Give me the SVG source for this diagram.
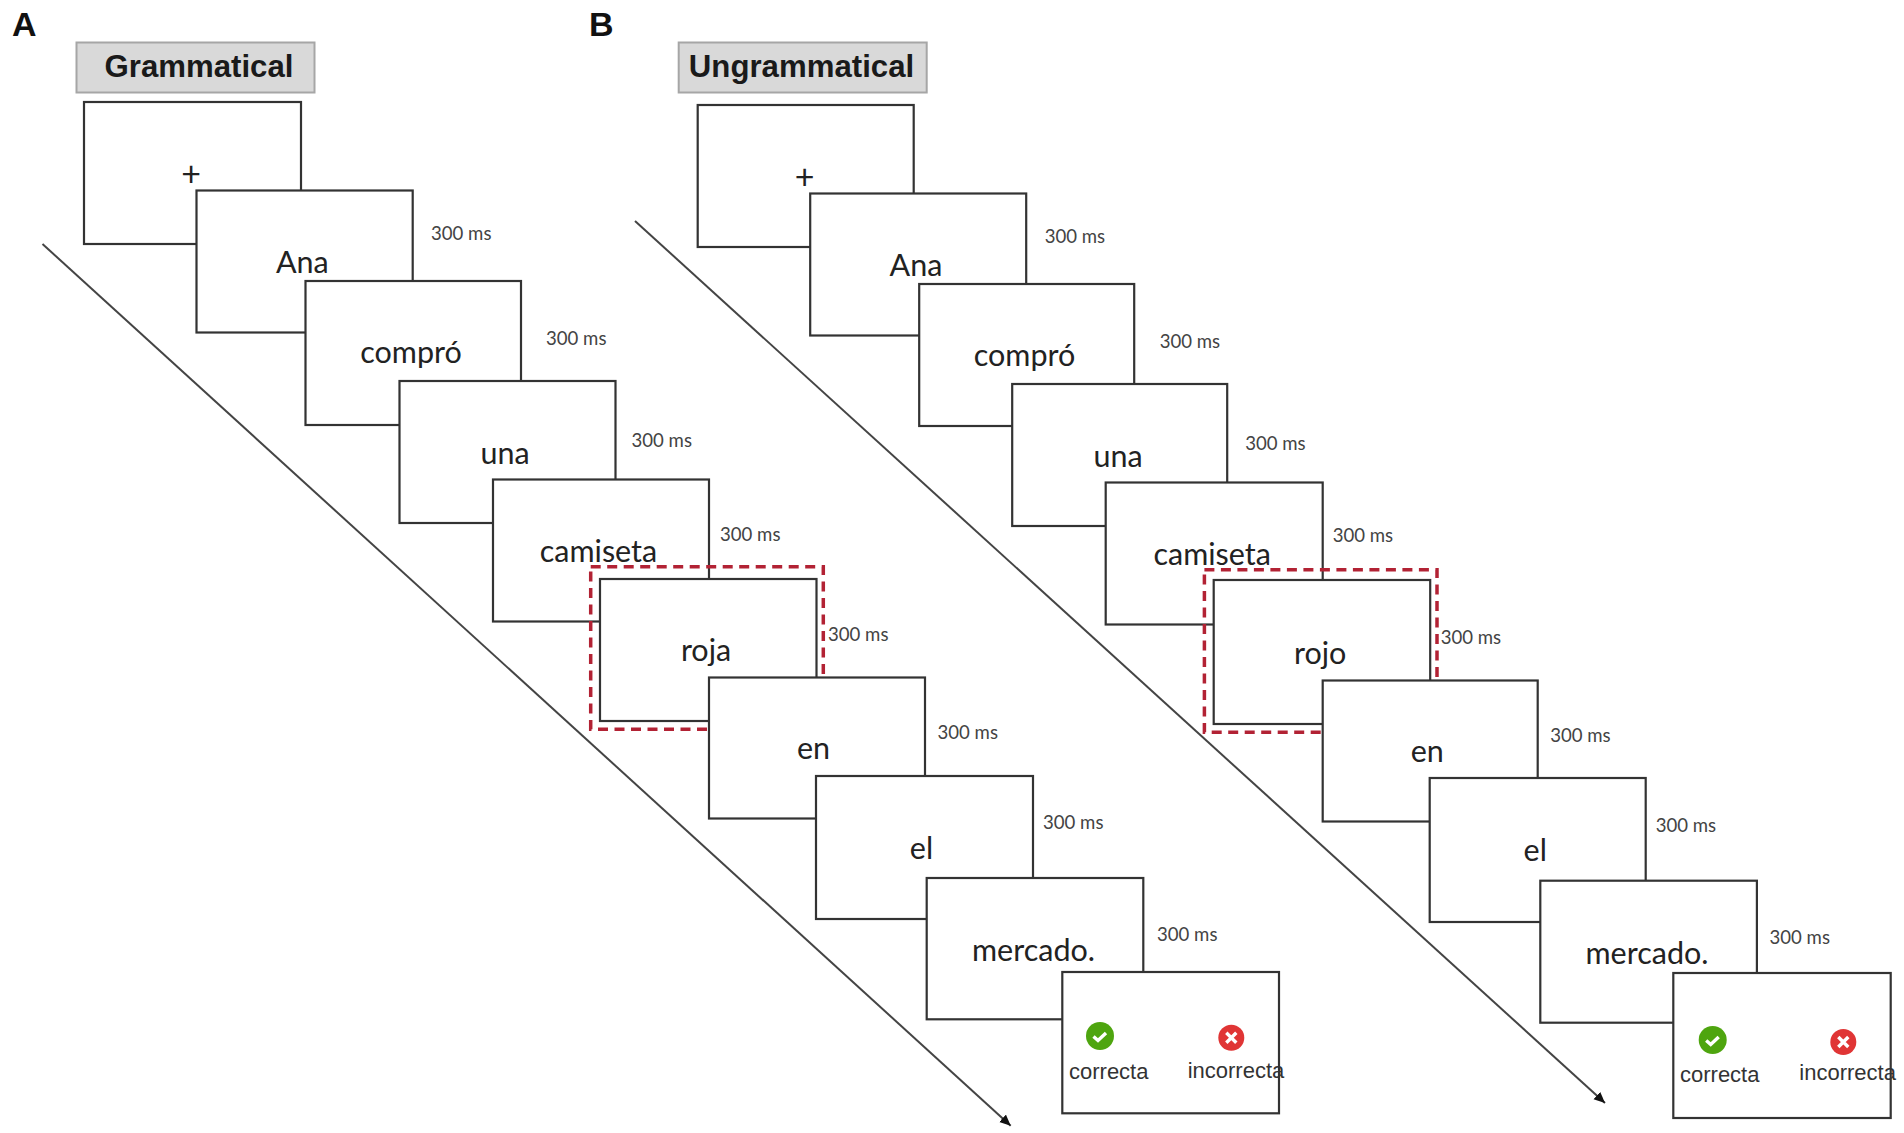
<svg xmlns="http://www.w3.org/2000/svg" width="1904" height="1133" viewBox="0 0 1904 1133">
<style>
.bg{fill:#fff}
.box{fill:#fff;stroke:#333;stroke-width:2.2}
.hdr{fill:#d9d9d9;stroke:#a6a6a6;stroke-width:2}
.ht{font:bold 31.200px "Liberation Sans",Arial,sans-serif;fill:#1a1a1a;text-anchor:middle}
.pl{font:bold 34px "Liberation Sans",Arial,sans-serif;fill:#111}
.w{font:30.500px Lato,"Open Sans",sans-serif;fill:#222;text-anchor:middle}
.fx{font:34px Lato,"Open Sans",sans-serif;fill:#222;text-anchor:middle}
.ms{font:18.600px Lato,"Open Sans",sans-serif;fill:#444}
.ans{font:22px "Liberation Sans",Arial,sans-serif;fill:#333}
.dash{fill:none;stroke:#b22234;stroke-width:3.500;stroke-dasharray:10 6.500}
.tl{fill:none;stroke:#444;stroke-width:2;marker-end:url(#ah)}
.ok{fill:#4ea50f}.no{fill:#e03535}
.mk{fill:none;stroke:#fff;stroke-width:3.400}
</style>
<defs>
<marker id="ah" markerUnits="userSpaceOnUse" markerWidth="14" markerHeight="12" refX="11" refY="5" orient="auto"><path d="M0 0L11 5L0 10z" fill="#111"/></marker>
</defs>
<rect class="bg" width="1904" height="1133"/>
<g id="connectors">
<path class="tl" d="M42.500 244L1010.700 1125.700"/>
<path class="tl" d="M635 221L1605 1103"/>
</g>
<g id="panel-a">
<text class="pl" x="12" y="36">A</text>
<g id="a-header"><rect class="hdr" x="76.500" y="42.500" width="238" height="50"/><text class="ht" x="199" y="77">Grammatical</text></g>
<g id="a-fix"><rect class="box" x="84" y="102" width="217" height="142"/><text class="fx" x="191" y="186">+</text></g>
<g id="a-ana"><rect class="box" x="196.500" y="190.500" width="216.200" height="142"/><text class="w" x="302.300" y="273">Ana</text><text class="ms" x="431" y="240">300 ms</text></g>
<g id="a-compro"><rect class="box" x="305.500" y="281" width="215.500" height="144"/><text class="w" x="411" y="363">compró</text><text class="ms" x="546" y="345">300 ms</text></g>
<g id="a-una"><rect class="box" x="399.500" y="381" width="216" height="142"/><text class="w" x="505" y="463.500">una</text><text class="ms" x="631.500" y="446.500">300 ms</text></g>
<g id="a-camiseta"><rect class="box" x="493" y="479.500" width="216" height="142"/><text class="w" x="598.500" y="561.500">camiseta</text><text class="ms" x="720" y="541">300 ms</text></g>
<rect class="dash" x="590.700" y="566.700" width="232.600" height="162.600"/>
<g id="a-roja"><rect class="box" x="600" y="579" width="216.500" height="142"/><text class="w" x="706" y="661">roja</text><text class="ms" x="828" y="641">300 ms</text></g>
<g id="a-en"><rect class="box" x="709" y="677.500" width="216" height="141"/><text class="w" x="813.500" y="759">en</text><text class="ms" x="937.500" y="739">300 ms</text></g>
<g id="a-el"><rect class="box" x="816" y="776" width="217" height="143"/><text class="w" x="921.500" y="859">el</text><text class="ms" x="1043" y="829">300 ms</text></g>
<g id="a-mercado"><rect class="box" x="926.700" y="878" width="216.600" height="141.300"/><text class="w" x="1033.500" y="961">mercado.</text><text class="ms" x="1157" y="941">300 ms</text></g>
<g id="a-answer"><rect class="box" x="1062.300" y="972" width="216.700" height="141.300"/>
<circle class="ok" cx="1100" cy="1036" r="14"/><path class="mk" d="M1093.500 1036.500l4.500 4l8-7.500"/>
<circle class="no" cx="1231.300" cy="1037.700" r="13"/><path class="mk" d="M1226.300 1032.700l10 10m0-10l-10 10"/>
<text class="ans" x="1069" y="1079">correcta</text><text class="ans" x="1187.700" y="1077.500">incorrecta</text></g>
</g>
<g id="panel-b">
<text class="pl" x="589" y="36">B</text>
<g id="b-header"><rect class="hdr" x="678.700" y="42.500" width="248" height="50"/><text class="ht" x="801.500" y="77">Ungrammatical</text></g>
<g id="b-fix"><rect class="box" x="697.700" y="105" width="216" height="142"/><text class="fx" x="804.700" y="189">+</text></g>
<g id="b-ana"><rect class="box" x="810.200" y="193.500" width="216" height="142"/><text class="w" x="916" y="276">Ana</text><text class="ms" x="1044.700" y="243">300 ms</text></g>
<g id="b-compro"><rect class="box" x="919.200" y="284" width="215" height="142"/><text class="w" x="1024.500" y="366">compró</text><text class="ms" x="1159.700" y="348">300 ms</text></g>
<g id="b-una"><rect class="box" x="1012.200" y="384" width="215" height="142"/><text class="w" x="1118" y="466.500">una</text><text class="ms" x="1245.200" y="449.500">300 ms</text></g>
<g id="b-camiseta"><rect class="box" x="1105.700" y="482.500" width="217" height="142"/><text class="w" x="1212.200" y="564.500">camiseta</text><text class="ms" x="1332.700" y="542">300 ms</text></g>
<rect class="dash" x="1204.400" y="569.700" width="232.600" height="162.600"/>
<g id="b-rojo"><rect class="box" x="1213.700" y="580" width="216.500" height="144"/><text class="w" x="1320.200" y="664">rojo</text><text class="ms" x="1440.700" y="644">300 ms</text></g>
<g id="b-en"><rect class="box" x="1322.700" y="680.500" width="215" height="141"/><text class="w" x="1427.200" y="762">en</text><text class="ms" x="1550.200" y="742">300 ms</text></g>
<g id="b-el"><rect class="box" x="1429.700" y="778" width="216" height="144"/><text class="w" x="1535.200" y="861">el</text><text class="ms" x="1655.700" y="832">300 ms</text></g>
<g id="b-mercado"><rect class="box" x="1540.300" y="880.700" width="216.600" height="142"/><text class="w" x="1647" y="964">mercado.</text><text class="ms" x="1769.500" y="944">300 ms</text></g>
<g id="b-answer"><rect class="box" x="1673.300" y="973" width="217.400" height="145"/>
<circle class="ok" cx="1712.700" cy="1040" r="14"/><path class="mk" d="M1706.200 1040.500l4.500 4l8-7.500"/>
<circle class="no" cx="1843.300" cy="1042" r="13"/><path class="mk" d="M1838.300 1037l10 10m0-10l-10 10"/>
<text class="ans" x="1680" y="1082">correcta</text><text class="ans" x="1799.300" y="1080">incorrecta</text></g>
</g>
</svg>
